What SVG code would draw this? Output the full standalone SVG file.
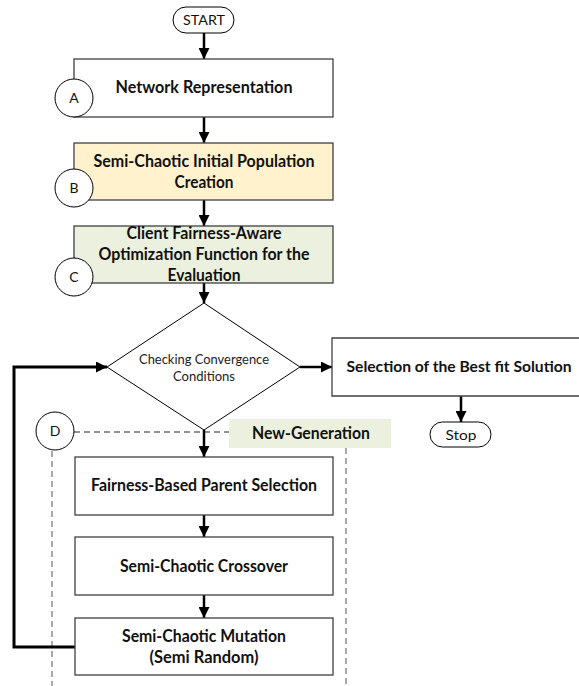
<svg xmlns="http://www.w3.org/2000/svg" width="579" height="686" viewBox="0 0 579 686">
<style>
.box{fill:#fff;stroke:#404040;stroke-width:1.3}
.circ{fill:#fff;stroke:#000;stroke-width:1}
.b{font-family:Lato,"Liberation Sans",sans-serif;font-weight:bold;font-size:16.5px;fill:#111;text-anchor:middle}
.r{font-family:Lato,"Liberation Sans",sans-serif;font-size:14px;fill:#111;text-anchor:middle}
.s{font-family:Lato,"Liberation Sans",sans-serif;font-size:13px;fill:#222;text-anchor:middle}
.ar{fill:none;stroke:#000;stroke-width:2.5;marker-end:url(#ah)}
.dash{fill:none;stroke:#555;stroke-width:1;stroke-dasharray:6 4}
</style>
<defs>
<marker id="ah" markerUnits="userSpaceOnUse" markerWidth="11" markerHeight="11" refX="10" refY="5" orient="auto" viewBox="0 0 10 10">
<path d="M0,0 L10,5 L0,10 z" fill="#000"/>
</marker>
</defs>
<rect width="579" height="686" fill="#fff"/>
<g id="dashes">
<line class="dash" style="stroke:#222" x1="74" y1="432" x2="229" y2="432"/>
<line class="dash" x1="52" y1="451" x2="52" y2="686"/>
<line class="dash" x1="346" y1="448" x2="346" y2="686"/>
</g>
<g id="connectors">
<path class="ar" d="M204,33 V59"/>
<path class="ar" d="M204,117 V143"/>
<path class="ar" d="M204,200 V226"/>
<path class="ar" d="M204,283 V303"/>
<path class="ar" d="M300,367 H332"/>
<path class="ar" d="M461,396 V422"/>
<path class="ar" d="M204,430 V457"/>
<path class="ar" d="M204,515 V537"/>
<path class="ar" d="M204,595 V618"/>
<path class="ar" style="stroke-width:3" d="M75,647 H14 V367 H107"/>
</g>
<g id="start">
<rect x="173" y="7" width="61" height="26" rx="13" class="circ"/>
<text x="204" y="25" class="r" textLength="42" lengthAdjust="spacingAndGlyphs">START</text>
</g>
<g id="nodeA">
<rect x="74" y="59" width="259" height="58" class="box"/>
<text x="204" y="93" class="b" textLength="177" lengthAdjust="spacingAndGlyphs">Network Representation</text>
<circle cx="74" cy="98" r="19" class="circ"/>
<text x="74" y="103" class="r">A</text>
</g>
<g id="nodeB">
<rect x="74" y="143" width="259" height="57" class="box" style="fill:#fff2cc"/>
<text x="204" y="166.5" class="b" textLength="221" lengthAdjust="spacingAndGlyphs">Semi-Chaotic Initial Population</text>
<text x="204" y="187.5" class="b" textLength="59" lengthAdjust="spacingAndGlyphs">Creation</text>
<circle cx="74" cy="188" r="19" class="circ"/>
<text x="74" y="193" class="r">B</text>
</g>
<g id="nodeC">
<rect x="74" y="226" width="259" height="57" class="box" style="fill:#ebf1de"/>
<text x="204" y="239" class="b" textLength="155" lengthAdjust="spacingAndGlyphs">Client Fairness-Aware</text>
<text x="204" y="260" class="b" textLength="211" lengthAdjust="spacingAndGlyphs">Optimization Function for the</text>
<text x="204" y="281" class="b" textLength="73" lengthAdjust="spacingAndGlyphs">Evaluation</text>
<circle cx="74" cy="277" r="19" class="circ"/>
<text x="74" y="282" class="r">C</text>
</g>
<g id="decision">
<polygon points="204,303 300,367 204,430 107,367" fill="#fff" stroke="#000" stroke-width="1"/>
<text x="204" y="364" class="s" textLength="130" lengthAdjust="spacingAndGlyphs">Checking Convergence</text>
<text x="204" y="381" class="s" textLength="62" lengthAdjust="spacingAndGlyphs">Conditions</text>
</g>
<g id="best">
<rect x="332" y="338" width="247" height="58" fill="#fff"/>
<path d="M579,338 H332 V396 H579" fill="none" stroke="#404040" stroke-width="1.3"/>
<text x="459" y="372" class="b" style="font-size:15px" textLength="225" lengthAdjust="spacingAndGlyphs">Selection of the Best fit Solution</text>
</g>
<g id="stop">
<rect x="430" y="422" width="61" height="25" rx="12.5" class="circ"/>
<text x="461" y="439.5" class="r" textLength="31" lengthAdjust="spacingAndGlyphs">Stop</text>
</g>
<g id="newgen">
<rect x="229" y="419" width="162" height="29" fill="#ebf1de"/>
<text x="311" y="439" class="b" textLength="118" lengthAdjust="spacingAndGlyphs">New-Generation</text>
</g>
<g id="nodeD">
<circle cx="55" cy="431" r="19" class="circ"/>
<text x="55" y="436" class="r">D</text>
</g>
<g id="parent">
<rect x="75" y="457" width="258" height="58" class="box"/>
<text x="204" y="491" class="b" textLength="226" lengthAdjust="spacingAndGlyphs">Fairness-Based Parent Selection</text>
</g>
<g id="crossover">
<rect x="75" y="537" width="258" height="58" class="box"/>
<text x="204" y="571.5" class="b" textLength="168" lengthAdjust="spacingAndGlyphs">Semi-Chaotic Crossover</text>
</g>
<g id="mutation">
<rect x="75" y="618" width="258" height="57" class="box"/>
<text x="204" y="642" class="b" textLength="164" lengthAdjust="spacingAndGlyphs">Semi-Chaotic Mutation</text>
<text x="204" y="663" class="b" textLength="109" lengthAdjust="spacingAndGlyphs">(Semi Random)</text>
</g>
</svg>
